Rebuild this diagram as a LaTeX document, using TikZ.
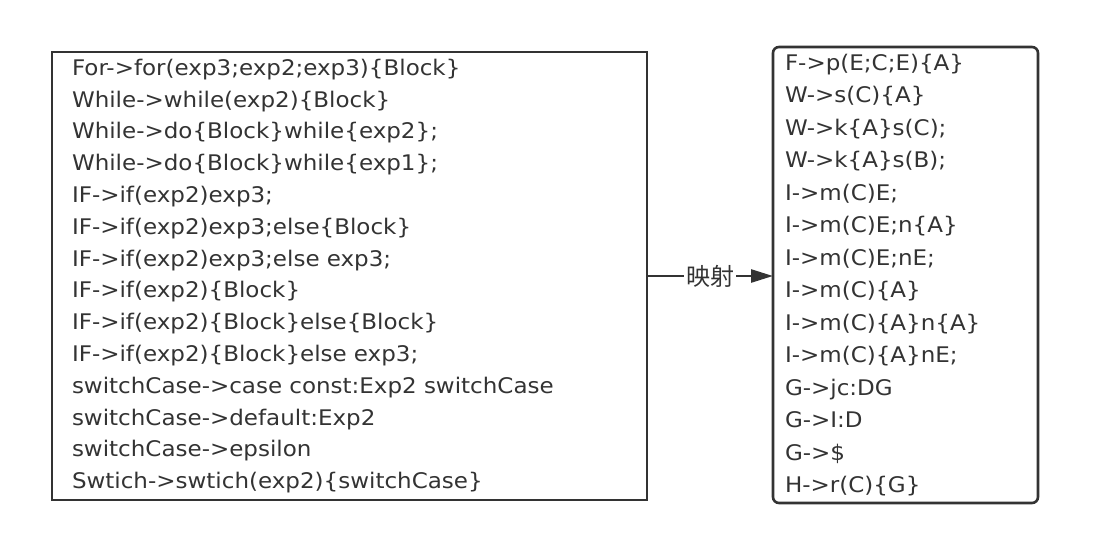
\documentclass[tikz,border=0pt]{standalone}
\usepackage{fontspec}
\setmainfont[FakeStretch=1.07]{DejaVu Sans}
\newfontfamily\cjk{Noto Sans CJK SC}
\usetikzlibrary{positioning,arrows.meta}
\definecolor{ink}{HTML}{333333}

\begin{document}
\begin{tikzpicture}[x=1pt,y=-1pt,
  rules/.style={draw=ink,line width=2.6pt,text=ink,align=left,anchor=north west,
    outer sep=0pt,inner ysep=0pt,font=\fontsize{21.5}{31.8}\selectfont},
  mapping/.style={midway,fill=white,text=ink,inner xsep=2pt,inner ysep=1pt,font=\cjk\fontsize{24}{26}\selectfont}]

  \useasboundingbox (0,0) rectangle (1108,544);

  \node[rules,minimum height=448pt,inner xsep=20pt,text width=555pt] (src) at (52,52) {%
    For->for(exp3;exp2;exp3)\{Block\}\\
    While->while(exp2)\{Block\}\\
    While->do\{Block\}while\{exp2\};\\
    While->do\{Block\}while\{exp1\};\\
    IF->if(exp2)exp3;\\
    IF->if(exp2)exp3;else\{Block\}\\
    IF->if(exp2)exp3;else exp3;\\
    IF->if(exp2)\{Block\}\\
    IF->if(exp2)\{Block\}else\{Block\}\\
    IF->if(exp2)\{Block\}else exp3;\\
    switchCase->case const:Exp2 switchCase\\
    switchCase->default:Exp2\\
    switchCase->epsilon\\
    Swtich->swtich(exp2)\{switchCase\}};

  \node[rules,rounded corners=6pt,minimum height=456pt,inner xsep=12pt,text width=241pt,
    font=\fontsize{21.5}{32.5}\selectfont] (dst) at (773,47) {%
    F->p(E;C;E)\{A\}\\
    W->s(C)\{A\}\\
    W->k\{A\}s(C);\\
    W->k\{A\}s(B);\\
    I->m(C)E;\\
    I->m(C)E;n\{A\}\\
    I->m(C)E;nE;\\
    I->m(C)\{A\}\\
    I->m(C)\{A\}n\{A\}\\
    I->m(C)\{A\}nE;\\
    G->jc:DG\\
    G->I:D\\
    G->\$\\
    H->r(C)\{G\}};

  \draw[draw=ink,line width=2.6pt,-{Triangle[length=22pt,width=13pt]}]
    (src.east) -- (src.east -| dst.west) node[mapping] {映射};

\end{tikzpicture}
\end{document}
